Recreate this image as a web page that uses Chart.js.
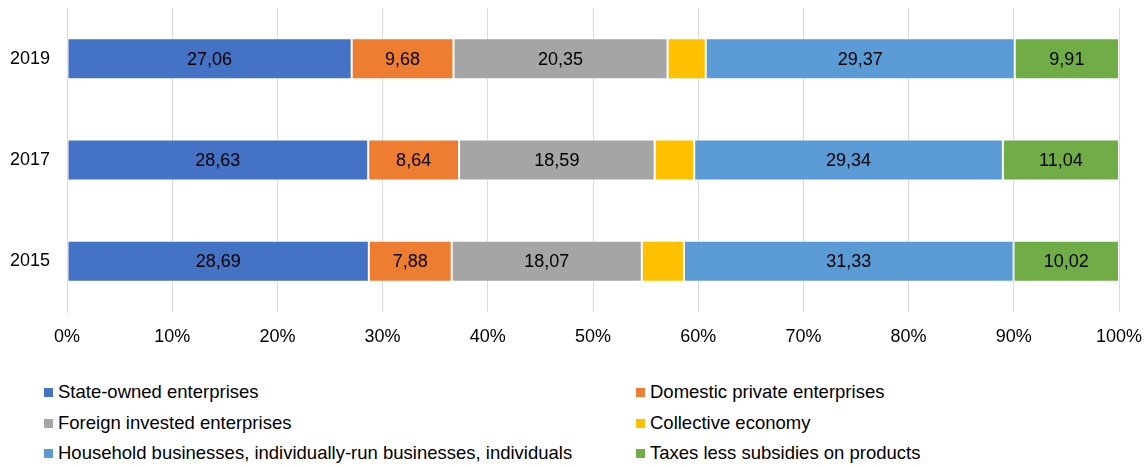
<!DOCTYPE html>
<html>
<head>
<meta charset="utf-8">
<script src="https://cdn.jsdelivr.net/npm/chart.js@4"></script>
<style>
  html, body { margin: 0; padding: 0; background: #fff; }
  body { width: 1145px; height: 466px; overflow: hidden; font-family: "Liberation Sans", Arial, sans-serif; }
  #wrap { position: relative; width: 1145px; height: 352px; }
  #legend { position: relative; height: 114px; }
  .item { position: absolute; font-size: 18.5px; color: #000; line-height: 20px; white-space: nowrap; }
  .item span.box { display: inline-block; width: 9px; height: 9px; margin-right: 5px; vertical-align: 1px; }
</style>
</head>
<body>
<div id="wrap"><canvas id="chart" width="1145" height="352"></canvas></div>
<div id="legend"></div>
<script>
// Годы (сверху вниз) и доли секторов, %
const years = ['2019', '2017', '2015'];
const stateOwned = [27.06, 28.63, 28.69];
const domesticPrivate = [9.68, 8.64, 7.88];
const foreignInvested = [20.35, 18.59, 18.07];
const collective = [3.63, 3.76, 4.01];
const household = [29.37, 29.34, 31.33];
const taxes = [9.91, 11.04, 10.02];

const seriesNames = [
  'State-owned enterprises',
  'Domestic private enterprises',
  'Foreign invested enterprises',
  'Collective economy',
  'Household businesses, individually-run businesses, individuals',
  'Taxes less subsidies on products'
];
const seriesData = [stateOwned, domesticPrivate, foreignInvested, collective, household, taxes];
const seriesColors = ['#4472C4', '#ED7D31', '#A5A5A5', '#FFC000', '#5B9BD5', '#70AD47'];
// у коллективного сектора подписи нет
const showLabels = [true, true, true, false, true, true];

const FONT = '"Liberation Sans", Arial, sans-serif';

// Подписи значений в центре сегментов
const segmentLabels = {
  id: 'segmentLabels',
  afterDatasetsDraw(chart) {
    const ctx = chart.ctx;
    ctx.save();
    ctx.font = '18px ' + FONT;
    ctx.fillStyle = '#000';
    ctx.textAlign = 'center';
    ctx.textBaseline = 'middle';
    chart.data.datasets.forEach((ds, i) => {
      if (!showLabels[i]) return;
      chart.getDatasetMeta(i).data.forEach((bar, j) => {
        const txt = ds.data[j].toFixed(2).replace('.', ',');
        ctx.fillText(txt, (bar.x + bar.base) / 2, bar.y + 1);
      });
    });
    ctx.restore();
  }
};

new Chart(document.getElementById('chart'), {
  type: 'bar',
  data: {
    labels: years,
    datasets: seriesNames.map((name, i) => ({
      label: name,
      data: seriesData[i],
      backgroundColor: seriesColors[i],
      borderColor: 'rgba(255,255,255,0.7)',
      borderWidth: 1,
      borderSkipped: false,
      categoryPercentage: 0.81,
      barPercentage: 0.5
    }))
  },
  options: {
    indexAxis: 'y',
    responsive: false,
    animation: false,
    layout: { padding: { top: 8, right: 26, left: 0, bottom: 0 } },
    plugins: {
      legend: { display: false },
      tooltip: { enabled: false }
    },
    scales: {
      x: {
        stacked: true,
        min: 0,
        max: 100,
        ticks: {
          stepSize: 10,
          callback: v => v + '%',
          color: '#000',
          font: { family: FONT, size: 18 },
          padding: 14
        },
        grid: { color: '#d9d9d9', drawTicks: false },
        border: { display: false },
        afterFit(scale) {
          scale.height = 40;
          scale.paddingLeft = 0;
          scale.paddingRight = 0;
        }
      },
      y: {
        stacked: true,
        ticks: {
          color: '#000',
          font: { family: FONT, size: 18 },
          padding: 17
        },
        grid: { display: false, drawTicks: false },
        border: { color: '#d9d9d9' },
        afterFit(scale) {
          scale.width = 67;
          scale.paddingTop = 0;
          scale.paddingBottom = 0;
        }
      }
    }
  },
  plugins: [segmentLabels]
});

// Легенда в две колонки
const legend = document.getElementById('legend');
seriesNames.forEach((name, i) => {
  const el = document.createElement('div');
  el.className = 'item';
  const col = i % 2, row = Math.floor(i / 2);
  el.style.left = (col === 0 ? 44 : 636) + 'px';
  el.style.top = (30 + row * 30.5) + 'px';
  el.innerHTML = '<span class="box" style="background:' + seriesColors[i] + '"></span>' + name;
  legend.appendChild(el);
});
</script>
</body>
</html>
